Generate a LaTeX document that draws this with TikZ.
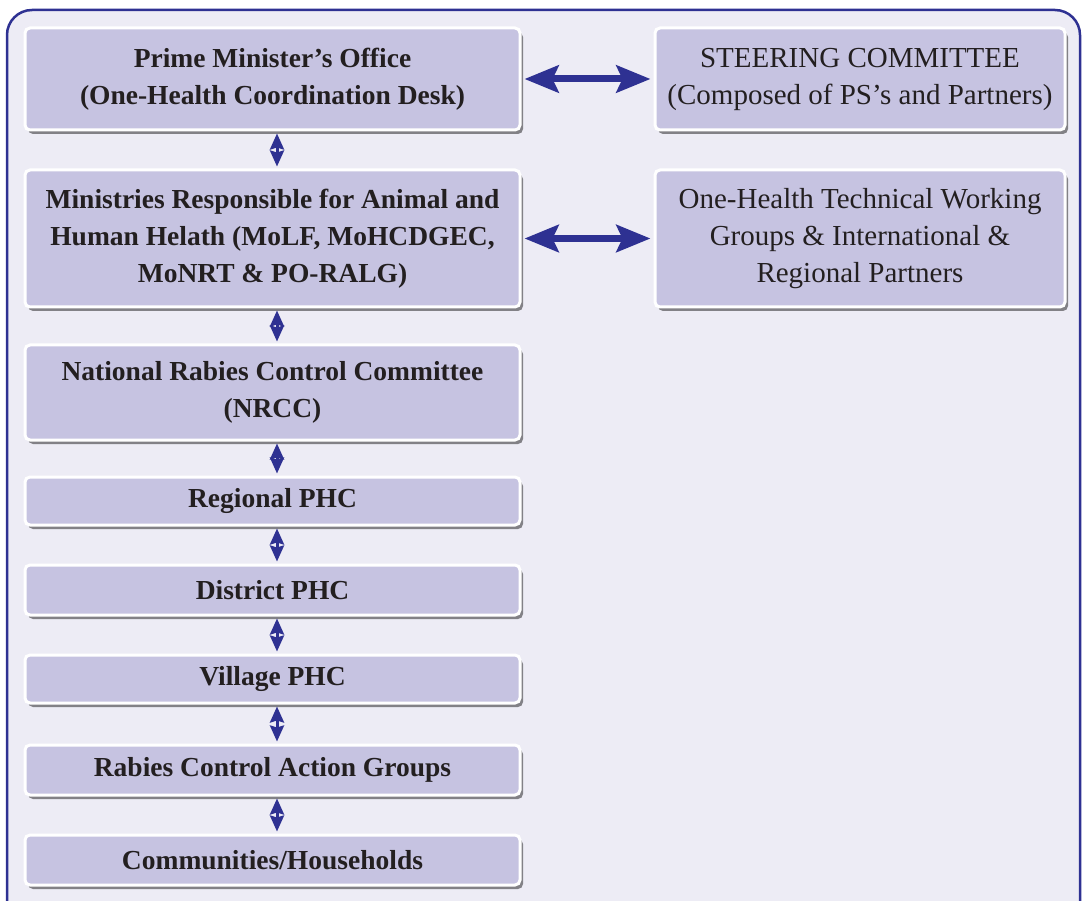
\documentclass[tikz,border=0pt]{standalone}
\usepackage{fontspec}
\setmainfont{Liberation Serif}
\usepackage{tikz}
\usetikzlibrary{arrows.meta,positioning,shadows}
\definecolor{frameblue}{HTML}{2E3192}
\definecolor{framefill}{HTML}{EDECF5}
\definecolor{boxfill}{HTML}{C6C3E1}
\definecolor{inkgray}{HTML}{231F20}
\tikzset{
	box/.style={draw=white,line width=3pt,fill=boxfill,rounded corners=5pt,align=center,
		text=inkgray,minimum width=495pt,
		drop shadow={shadow xshift=3pt,shadow yshift=-4pt,fill=black,opacity=0.45},
		font=\fontsize{27.5}{37}\selectfont\bfseries},
	sidebox/.style={box,minimum width=410pt,font=\fontsize{29}{37}\selectfont},
	link/.style={{Stealth[length=16pt,width=14pt,inset=2pt]}-{Stealth[length=16pt,width=14pt,inset=2pt]},
		line width=3pt,draw=frameblue,shorten >=2pt,shorten <=2pt},
	biglink/.style={{Stealth[length=34pt,width=27pt,inset=6pt]}-{Stealth[length=34pt,width=27pt,inset=6pt]},
		line width=7pt,draw=frameblue,shorten >=3pt,shorten <=3pt}
}
\begin{document}
\begin{tikzpicture}[x=1pt,y=-1pt]
	\useasboundingbox (0,0) rectangle (1082,901);
	\clip (0,0) rectangle (1082,901);
	\draw[frameblue,line width=2.5pt,fill=framefill,rounded corners=25pt] (7,10) rectangle (1080,930);
	% main column
	\node[box,minimum height=102pt] (pmo) at (272.5,79) {Prime Minister’s Office\\(One-Health Coordination Desk)};
	\node[box,minimum height=137pt] (min) at (272.5,238.5) {Ministries Responsible for Animal and\\Human Helath (MoLF, MoHCDGEC,\\MoNRT \& PO-RALG)};
	\node[box,minimum height=95pt] (nrcc) at (272.5,392.5) {National Rabies Control Committee\\(NRCC)};
	\node[box,minimum height=48pt] (reg) at (272.5,501) {Regional PHC};
	\node[box,minimum height=50pt] (dist) at (272.5,590) {District PHC};
	\node[box,minimum height=48pt] (vil) at (272.5,679) {Village PHC};
	\node[box,minimum height=50pt] (rcag) at (272.5,770) {Rabies Control Action Groups};
	\node[box,minimum height=50pt] (comm) at (272.5,860) {Communities/Households};
	% partners
	\node[sidebox,minimum height=102pt] (steer) at (860,79) {STEERING COMMITTEE\\(Composed of PS’s and Partners)};
	\node[sidebox,minimum height=137pt] (twg) at (860,238.5) {One-Health Technical Working\\Groups \& International \&\\Regional Partners};
	\draw[biglink] (pmo) -- (steer);
	\draw[biglink] (min) -- (twg);
	\draw[link] ([xshift=4.5pt]pmo.south) -- ([xshift=4.5pt]min.north);
	\draw[link] ([xshift=4.5pt]min.south) -- ([xshift=4.5pt]nrcc.north);
	\draw[link] ([xshift=4.5pt]nrcc.south) -- ([xshift=4.5pt]reg.north);
	\draw[link] ([xshift=4.5pt]reg.south) -- ([xshift=4.5pt]dist.north);
	\draw[link] ([xshift=4.5pt]dist.south) -- ([xshift=4.5pt]vil.north);
	\draw[link] ([xshift=4.5pt]vil.south) -- ([xshift=4.5pt]rcag.north);
	\draw[link] ([xshift=4.5pt]rcag.south) -- ([xshift=4.5pt]comm.north);
\end{tikzpicture}
\end{document}
